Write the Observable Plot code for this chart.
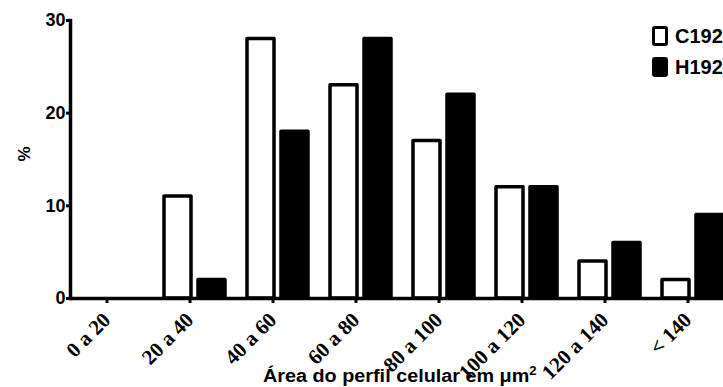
<!DOCTYPE html>
<html>
<head>
<meta charset="utf-8">
<script src="https://cdn.jsdelivr.net/npm/d3@7"></script>
<script src="https://cdn.jsdelivr.net/npm/@observablehq/plot@0.6"></script>
<style>
  html, body { margin: 0; padding: 0; background: #fff; }
  #wrap { position: relative; width: 723px; height: 387px; overflow: hidden; background: #fff; }
  #chart { position: absolute; left: 0; top: 0; width: 760px; height: 387px; }
  #chart svg { max-width: none !important; width: 760px; height: 387px; }
  .lbl { position: absolute; font-family: "Liberation Sans", Arial, sans-serif; font-weight: bold; color: #000; white-space: nowrap; }
  #ylabel { left: 23.5px; top: 154px; font-size: 17px; line-height: 17px; transform: translate(-50%, -50%) rotate(-90deg); }
  #xlabel { left: 263px; top: 367px; font-size: 18px; line-height: 18px; transform-origin: left center; transform: scaleX(1.1); }
  #xlabel sup { font-size: 12px; vertical-align: 7px; line-height: 0; }
  .leg { position: absolute; left: 652px; display: flex; align-items: center; font-size: 20px; line-height: 20px; }
  .box { box-sizing: border-box; width: 16px; height: 20px; border: 3.5px solid #000; border-radius: 3px; margin-right: 7px; }
</style>
</head>
<body>
<div id="wrap">
  <div id="chart"></div>
  <div id="ylabel" class="lbl">%</div>
  <div id="xlabel" class="lbl">Área do perfil celular em μm<sup>2</sup></div>
  <div class="lbl leg" style="top:26px"><div class="box" style="background:#fff"></div>C192</div>
  <div class="lbl leg" style="top:57px"><div class="box" style="background:#000"></div>H192</div>
</div>
<script>
const categories = ["0 a 20", "20 a 40", "40 a 60", "60 a 80", "80 a 100", "100 a 120", "120 a 140", "< 140"];
const seriesNames = ["C192", "H192"];
const c192 = [0, 11, 28, 23, 17, 12, 4, 2];
const h192 = [0, 2, 18, 28, 22, 12, 6, 9];
const yTicks = [0, 10, 20, 30];

const data = categories.flatMap((cat, i) => [
  {cat, series: seriesNames[0], value: c192[i]},
  {cat, series: seriesNames[1], value: h192[i]}
]);

const chart = Plot.plot({
  width: 760,
  height: 387,
  marginLeft: 68,
  marginRight: 25,
  marginTop: 20,
  marginBottom: 89,
  style: {fontFamily: "Liberation Sans, Arial, sans-serif", fontWeight: "bold", color: "black", background: "white", overflow: "visible", maxWidth: "none"},
  fx: {domain: categories, padding: 0, label: null},
  x: {domain: seriesNames, paddingInner: 0.2, paddingOuter: 0.29, axis: null},
  y: {domain: [0, 30], axis: null},
  color: {domain: seriesNames, range: ["white", "black"]},
  marks: [
    Plot.barY(data, {fx: "cat", x: "series", y: "value", fill: "series", stroke: "black", strokeWidth: 3.5, strokeLinejoin: "round"}),
    Plot.ruleY([0], {stroke: "black", strokeWidth: 3.5}),
    Plot.axisFx({anchor: "bottom", label: null, tickSize: 5, strokeWidth: 3, tickPadding: 13, dx: -5, tickRotate: -45,
      fontFamily: "Liberation Serif, Times New Roman, serif", fontWeight: "bold", fontSize: 21}),
    Plot.axisY({ticks: yTicks, label: null, tickSize: 4, strokeWidth: 3, tickPadding: 1, fontSize: 18, fontWeight: "bold"}),
    Plot.frame({anchor: "left", facet: "super", stroke: "black", strokeWidth: 3.5})
  ]
});
document.getElementById("chart").appendChild(chart);
</script>
</body>
</html>
